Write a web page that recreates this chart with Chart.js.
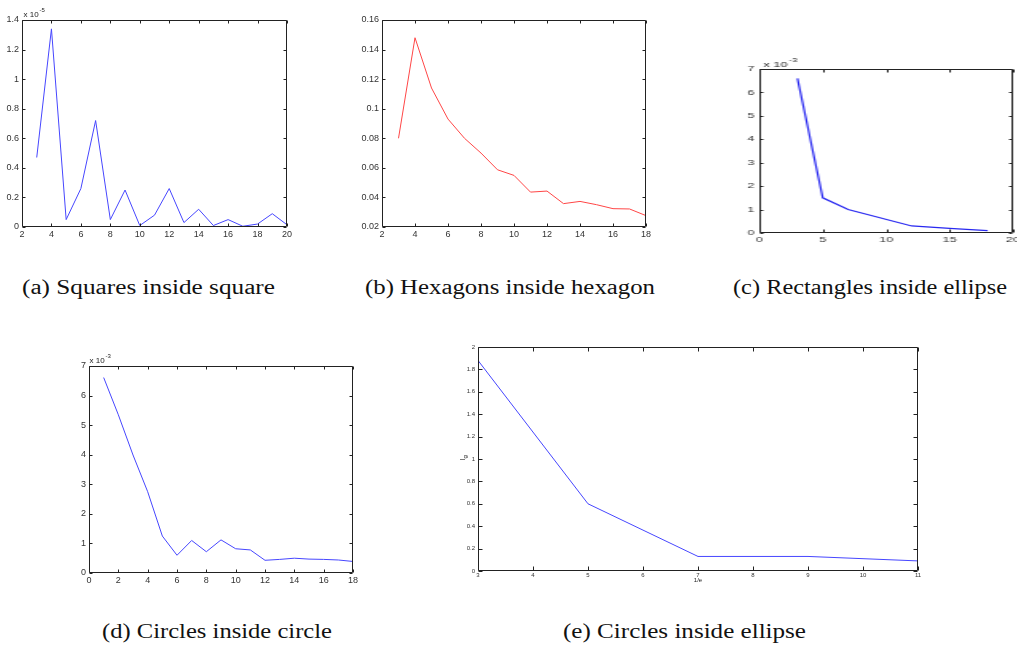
<!DOCTYPE html>
<html>
<head>
<meta charset="utf-8">
<script src="https://cdn.jsdelivr.net/npm/chart.js@4.4.1/dist/chart.umd.min.js"></script>
<style>
  html, body { margin: 0; padding: 0; background: #fff; }
  body { width: 1017px; height: 645px; overflow: hidden; position: relative; }
  canvas { position: absolute; }
  .cap { position: absolute; font-family: "Liberation Serif", "DejaVu Serif", serif; font-size: 20px;
         line-height: 20px; color: #111; white-space: nowrap; transform-origin: 0 50%; }
</style>
</head>
<body>
<script>
// (a) squares inside square, values in units of 1e-5
const SQ_N   = [3, 4, 5, 6, 7, 8, 9, 10, 11, 12, 13, 14, 15, 16, 17, 18, 19, 20];
const SQ_ERR = [0.47, 1.34, 0.05, 0.26, 0.72, 0.05, 0.25, 0.01, 0.08, 0.26, 0.03, 0.12, 0.01, 0.05, 0.005, 0.02, 0.09, 0.015];
const SQ_XTICKS = [2, 4, 6, 8, 10, 12, 14, 16, 18, 20];
const SQ_YTICKS = [0, 0.2, 0.4, 0.6, 0.8, 1, 1.2, 1.4];

// (b) hexagons inside hexagon
const HEX_N   = [3, 4, 5, 6, 7, 8, 9, 10, 11, 12, 13, 14, 15, 16, 17, 18];
const HEX_ERR = [0.080, 0.148, 0.114, 0.093, 0.080, 0.070, 0.0587, 0.0549, 0.0436, 0.0443, 0.0358, 0.0373, 0.0351, 0.0324, 0.0322, 0.0277];
const HEX_XTICKS = [2, 4, 6, 8, 10, 12, 14, 16, 18];
const HEX_YTICKS = [0.02, 0.04, 0.06, 0.08, 0.1, 0.12, 0.14, 0.16];

// (c) rectangles inside ellipse, values in units of 1e-3
const RECT_N   = [3, 5, 7, 12, 15, 18];
const RECT_ERR = [6.6, 1.5, 1.0, 0.3, 0.2, 0.1];
const RECT_XTICKS = [0, 5, 10, 15, 20];
const RECT_YTICKS = [0, 1, 2, 3, 4, 5, 6, 7];

// (d) circles inside circle, values in units of 1e-3
const CIRC_N   = [1, 2, 3, 4, 5, 6, 7, 8, 9, 10, 11, 12, 13, 14, 15, 16, 17, 18];
const CIRC_ERR = [6.61, 5.35, 3.99, 2.75, 1.25, 0.60, 1.10, 0.72, 1.12, 0.82, 0.78, 0.43, 0.46, 0.50, 0.47, 0.46, 0.44, 0.39];
const CIRC_XTICKS = [0, 2, 4, 6, 8, 10, 12, 14, 16, 18];
const CIRC_YTICKS = [0, 1, 2, 3, 4, 5, 6, 7];

// (e) circles inside ellipse
const ELL_N   = [3, 5, 7, 9, 11];
const ELL_ERR = [1.88, 0.60, 0.13, 0.13, 0.09];
const ELL_XTICKS = [3, 4, 5, 6, 7, 8, 9, 10, 11];
const ELL_YTICKS = [0, 0.2, 0.4, 0.6, 0.8, 1, 1.2, 1.4, 1.6, 1.8, 2];

const CAPTIONS = [
  '(a) Squares inside square',
  '(b) Hexagons inside hexagon',
  '(c) Rectangles inside ellipse',
  '(d) Circles inside circle',
  '(e) Circles inside ellipse'
];

const SANS = '"Liberation Sans", Arial, Helvetica, sans-serif';
const fmt = v => String(parseFloat(Number(v).toFixed(6)));

// Boxed axes with inward tick marks on all four sides, plus the
// exponent note and the optional axis titles.
const matBox = {
  id: 'matBox',
  afterDraw(chart, args, o) {
    const { ctx, chartArea: a } = chart;
    const xs = chart.scales.x, ys = chart.scales.y;
    const L = Math.round(a.left) + 0.5, R = Math.round(a.right) - 0.5;
    const T = Math.round(a.top) + 0.5, B = Math.round(a.bottom) - 0.5;
    ctx.save();
    ctx.strokeStyle = o.color;
    ctx.lineWidth = 1;
    ctx.beginPath();
    ctx.rect(L, T, R - L, B - T);
    xs.ticks.forEach(t => {
      const p = Math.round(xs.getPixelForValue(t.value)) + 0.5;
      ctx.moveTo(p, B); ctx.lineTo(p, B - o.len);
      ctx.moveTo(p, T); ctx.lineTo(p, T + o.len);
    });
    ys.ticks.forEach(t => {
      const p = Math.round(ys.getPixelForValue(t.value)) + 0.5;
      ctx.moveTo(L, p); ctx.lineTo(L + o.lenY, p);
      ctx.moveTo(R, p); ctx.lineTo(R - o.lenY, p);
    });
    ctx.stroke();

    ctx.fillStyle = o.textColor;
    if (o.mult) {
      const m = o.mult;
      ctx.textAlign = 'left';
      ctx.textBaseline = 'alphabetic';
      ctx.font = m.size + 'px ' + SANS;
      ctx.fillText(m.text, L + m.dx, T + m.dy);
      const w = ctx.measureText(m.text).width;
      ctx.font = m.expSize + 'px ' + SANS;
      ctx.fillText(m.exp, L + m.dx + w + 1, T + m.dy - m.rise);
    }
    if (o.xTitle) {
      ctx.font = o.xTitle.size + 'px ' + SANS;
      ctx.textAlign = 'center';
      ctx.textBaseline = 'middle';
      ctx.fillText(o.xTitle.text, (L + R) / 2, B + o.xTitle.dy);
    }
    if (o.yTitle) {
      ctx.translate(L + o.yTitle.dx, (T + B) / 2);
      ctx.rotate(-Math.PI / 2);
      ctx.textAlign = 'left';
      ctx.textBaseline = 'alphabetic';
      ctx.font = o.yTitle.size + 'px ' + SANS;
      const w = ctx.measureText(o.yTitle.text).width;
      ctx.fillText(o.yTitle.text, -w, 2);
      ctx.font = (o.yTitle.size - 1) + 'px ' + SANS;
      ctx.fillText(o.yTitle.sub, 0.5, 4);
    }
    ctx.restore();
  }
};

function buildPlot(spec) {
  const s = spec.stretch || 1;
  const plotW = (spec.box.r - spec.box.l) / s;
  const plotH = spec.box.b - spec.box.t;
  const pad = spec.pad;
  const cw = Math.round(pad.l + spec.yW + plotW + pad.r);
  const ch = Math.round(pad.t + plotH + spec.xH + pad.b);
  const cv = document.createElement('canvas');
  cv.width = cw; cv.height = ch;
  cv.style.width = (cw * s) + 'px';
  cv.style.height = ch + 'px';
  document.body.appendChild(cv);

  const font = { family: SANS, size: spec.font };
  const tickColor = '#333';
  const chart = new Chart(cv, {
    type: 'line',
    data: {
      datasets: [{
        data: spec.xs.map((v, i) => ({ x: v, y: spec.ys[i] })),
        borderColor: spec.color,
        borderWidth: spec.lw || 1,
        pointRadius: 0,
        tension: 0,
        fill: false
      }]
    },
    options: {
      responsive: false,
      animation: false,
      devicePixelRatio: 1,
      events: [],
      layout: { padding: { left: pad.l, top: pad.t, right: pad.r, bottom: pad.b } },
      plugins: {
        legend: { display: false },
        tooltip: { enabled: false },
        matBox: {
          color: '#222', textColor: '#222', len: spec.tickLen, lenY: spec.tickLenY || spec.tickLen,
          mult: spec.mult, xTitle: spec.xTitle, yTitle: spec.yTitle
        }
      },
      scales: {
        x: {
          type: 'linear',
          min: spec.xTicks[0], max: spec.xTicks[spec.xTicks.length - 1],
          afterBuildTicks: sc => { sc.ticks = spec.xTicks.map(v => ({ value: v })); },
          afterFit: sc => { sc.height = spec.xH; },
          grid: { display: false, drawTicks: false },
          border: { display: false },
          ticks: { font, color: tickColor, padding: spec.xPad, maxRotation: 0, autoSkip: false, callback: fmt }
        },
        y: {
          type: 'linear',
          min: spec.yTicks[0], max: spec.yTicks[spec.yTicks.length - 1],
          afterBuildTicks: sc => { sc.ticks = spec.yTicks.map(v => ({ value: v })); },
          afterFit: sc => { sc.width = spec.yW; },
          grid: { display: false, drawTicks: false },
          border: { display: false },
          ticks: { font, color: tickColor, padding: spec.yPad, autoSkip: false, callback: fmt }
        }
      }
    },
    plugins: [matBox]
  });
  const a = chart.chartArea;
  cv.style.width = (cw * s) + 'px';
  cv.style.height = ch + 'px';
  cv.style.left = (spec.box.l - a.left * s) + 'px';
  cv.style.top = (spec.box.t - a.top) + 'px';
  return chart;
}

const BLUE = 'rgb(70,70,255)';
const RED = 'rgb(255,70,70)';

buildPlot({
  box: { l: 22, t: 20, r: 287, b: 227 }, pad: { l: 0, t: 14, r: 12, b: 2 },
  yW: 22, xH: 14, font: 9, xPad: 2, yPad: 3, tickLen: 3,
  xs: SQ_N, ys: SQ_ERR, xTicks: SQ_XTICKS, yTicks: SQ_YTICKS, color: BLUE,
  mult: { text: 'x 10', exp: '-5', dx: 1, dy: -4, rise: 5, size: 8, expSize: 6 }
});

buildPlot({
  box: { l: 382, t: 20, r: 646, b: 227 }, pad: { l: 0, t: 14, r: 12, b: 2 },
  yW: 30, xH: 14, font: 9, xPad: 2, yPad: 3, tickLen: 3,
  xs: HEX_N, ys: HEX_ERR, xTicks: HEX_XTICKS, yTicks: HEX_YTICKS, color: RED
});

buildPlot({
  box: { l: 759, t: 69, r: 1013, b: 233 }, pad: { l: 0, t: 14, r: 10, b: 2 }, stretch: 1.6,
  yW: 14, xH: 14, font: 8, xPad: 2, yPad: 3, tickLen: 3, tickLenY: 2,
  xs: RECT_N, ys: RECT_ERR, xTicks: RECT_XTICKS, yTicks: RECT_YTICKS, color: 'rgb(40,40,240)', lw: 1.2,
  mult: { text: 'x 10', exp: '-3', dx: 2, dy: -3, rise: 5, size: 8, expSize: 6 }
});

buildPlot({
  box: { l: 89, t: 366, r: 353, b: 573 }, pad: { l: 0, t: 14, r: 12, b: 2 },
  yW: 22, xH: 14, font: 9, xPad: 2, yPad: 3, tickLen: 3,
  xs: CIRC_N, ys: CIRC_ERR, xTicks: CIRC_XTICKS, yTicks: CIRC_YTICKS, color: BLUE,
  mult: { text: 'x 10', exp: '-3', dx: 0, dy: -4, rise: 5, size: 8, expSize: 6 }
});

buildPlot({
  box: { l: 478, t: 347, r: 918, b: 571 }, pad: { l: 0, t: 8, r: 10, b: 2 },
  yW: 30, xH: 16, font: 6, xPad: 1, yPad: 3, tickLen: 4,
  xs: ELL_N, ys: ELL_ERR, xTicks: ELL_XTICKS, yTicks: ELL_YTICKS, color: BLUE,
  xTitle: { text: '1/e', dy: 10, size: 6 },
  yTitle: { text: 'l', sub: 'g', dx: -16, size: 7 }
});

// Sub-figure captions, each stretched to its column width
const CAP_POS = [
  { l: 22, r: 275, cy: 287 },
  { l: 365, r: 655, cy: 287 },
  { l: 733, r: 1007, cy: 287 },
  { l: 102, r: 332, cy: 631 },
  { l: 563, r: 806, cy: 631 }
];
CAPTIONS.forEach((txt, i) => {
  const d = document.createElement('div');
  d.className = 'cap';
  d.textContent = txt;
  document.body.appendChild(d);
  const p = CAP_POS[i];
  d.style.left = p.l + 'px';
  d.style.top = (p.cy - 10) + 'px';
  const w = d.getBoundingClientRect().width;
  d.style.transform = 'scaleX(' + ((p.r - p.l) / w).toFixed(4) + ')';
});
</script>
</body>
</html>
